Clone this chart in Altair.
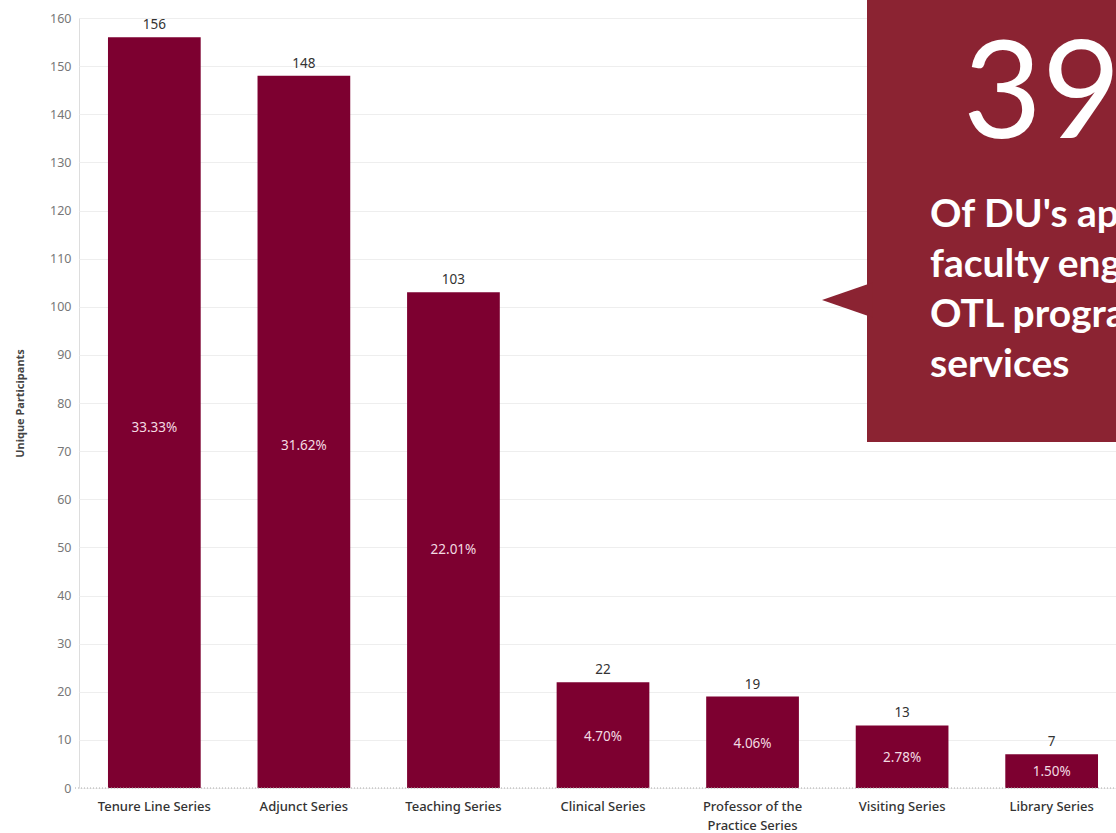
import altair as alt
import pandas as pd

categories = ["Tenure Line Series", "Adjunct Series", "Teaching Series", "Clinical Series",
              "Professor of the Practice Series", "Visiting Series", "Library Series"]
values = [156, 148, 103, 22, 19, 13, 7]
pct_labels = ["33.33%", "31.62%", "22.01%", "4.70%", "4.06%", "2.78%", "1.50%"]
y_ticks = list(range(0, 161, 10))

callout_number = "39%"
callout_lines = ["Of DU's approximately", "faculty engaged in", "OTL programs and", "services"]

BAR = "#7D0030"
BOX = "#8B2332"
FONT = "Noto Sans"

df = pd.DataFrame({"cat": categories, "value": values, "pct": pct_labels})

x = alt.X("cat:N", sort=categories, title=None,
          scale=alt.Scale(paddingInner=0.38, paddingOuter=0.157, align=0.617),
          axis=alt.Axis(labelAngle=0, domain=False, ticks=False, labelPadding=12,
                        labelFontSize=13, labelColor="#333", labelFont=FONT, labelFontWeight=500,
                        labelLineHeight=19, labelBaseline="top",
                        labelExpr="datum.label == 'Professor of the Practice Series' ? ['Professor of the', 'Practice Series'] : datum.label"))
yscale = alt.Scale(domain=[0, 160], nice=False)

bars = alt.Chart(df).mark_bar(color=BAR).encode(
    x=x,
    y=alt.Y("value:Q", scale=yscale, title="Unique Participants",
            axis=alt.Axis(values=y_ticks, domain=False, ticks=False, labelPadding=8,
                          labelFontSize=12.5, labelColor="#777", labelFont=FONT,
                          gridColor="#eeeeee", gridWidth=1,
                          titleFontSize=11, titleFont=FONT, titleFontWeight="bold",
                          titleColor="#444", titlePadding=24)),
)

top_labels = alt.Chart(df).mark_text(baseline="bottom", dy=-5, fontSize=13.5, color="#333", font=FONT).encode(
    x=alt.X("cat:N", sort=categories), y=alt.Y("value:Q", scale=yscale), text="value:Q")

mid_labels = alt.Chart(df).transform_calculate(mid="datum.value * 0.48").mark_text(
    baseline="middle", fontSize=13.5, color="#f3dbe2", font=FONT).encode(
    x=alt.X("cat:N", sort=categories), y=alt.Y("mid:Q", scale=yscale), text="pct:N")

zero = alt.Chart(pd.DataFrame({"z": [0]})).mark_rule(color="#aaaaaa", strokeDash=[1, 2], strokeWidth=1).encode(
    y=alt.Y("z:Q", scale=yscale), x=alt.value(-4), x2=alt.value(1037))

one = pd.DataFrame({"n": [callout_number], "lines": [callout_lines]})

box = alt.Chart(one).mark_rect(color=BOX).encode(
    x=alt.value(788), x2=alt.value(1100), y=alt.value(-30), y2=alt.value(424))

arrow = alt.Chart(one).mark_point(shape="M -1 0 L 1.25 -0.78 L 1.25 0.78 Z", filled=True,
                                  size=2025, color=BOX, opacity=1, strokeWidth=0).encode(
    x=alt.value(765.5), y=alt.value(282))

big = alt.Chart(one).mark_text(align="left", baseline="alphabetic", fontSize=136, font="Lato",
                               fontWeight="normal", color="#ffffff").encode(
    x=alt.value(884), y=alt.value(120), text="n:N")

txt = alt.Chart(one).mark_text(align="left", baseline="alphabetic", fontSize=39, font="Lato",
                               fontWeight="bold", color="#ffffff", lineHeight=50).encode(
    x=alt.value(851), y=alt.value(209), text="lines")

chart = alt.layer(bars, zero, top_labels, mid_labels, box, arrow, big, txt).properties(
    width=1037, height=770,
    autosize=alt.AutoSizeParams(type="none"),
    padding={"left": 79, "top": 18, "right": 0, "bottom": 45},
).configure_view(stroke=None).configure(background="white")

chart.save("out.html", embed_options={"renderer": "svg", "actions": False})
